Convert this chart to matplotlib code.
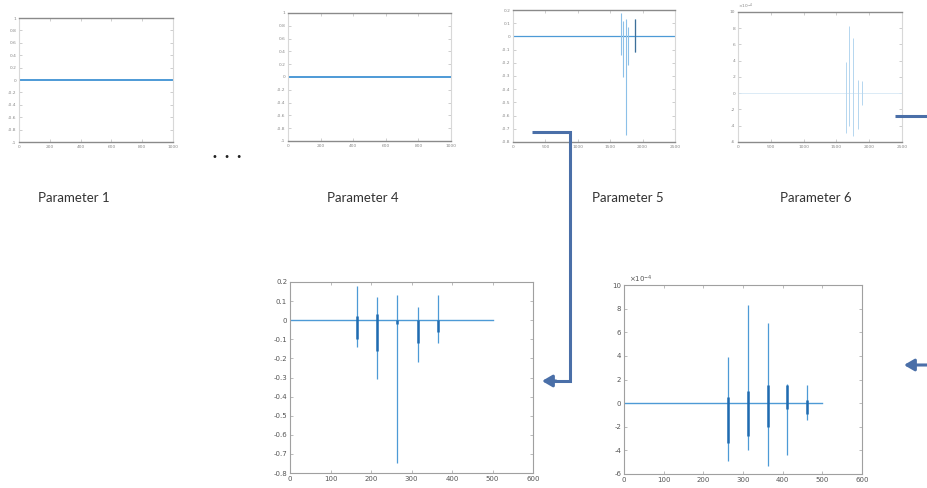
import matplotlib.pyplot as plt

# flat parameters (1 and 4)
flat_x = [0, 1000]
flat_y = [0, 0]

# parameter 5: bursts over the full run
p5_centers = [1660, 1700, 1740, 1775, 1880]
p5_top = [0.18, 0.12, 0.13, 0.07, 0.13]
p5_bottom = [-0.14, -0.31, -0.75, -0.22, -0.12]

# parameter 6: bursts over the full run
p6_centers = [1650, 1690, 1750, 1825, 1890]
p6_top = [3.9e-4, 8.3e-4, 6.8e-4, 1.6e-4, 1.5e-4]
p6_bottom = [-4.9e-4, -4.0e-4, -5.3e-4, -4.4e-4, -1.4e-4]

# zoomed window of parameter 5
z5_x = [0, 500]
z5_centers = [165, 215, 265, 315, 365]
z5_top = [0.18, 0.12, 0.13, 0.07, 0.13]
z5_bottom = [-0.14, -0.31, -0.75, -0.22, -0.12]
z5_core_top = [0.02, 0.03, 0.0, 0.0, 0.0]
z5_core_bottom = [-0.10, -0.16, -0.02, -0.12, -0.06]

# zoomed window of parameter 6
z6_x = [0, 500]
z6_centers = [262, 312, 362, 412, 462]
z6_top = [3.9e-4, 8.3e-4, 6.8e-4, 1.6e-4, 1.5e-4]
z6_bottom = [-4.9e-4, -4.0e-4, -5.3e-4, -4.4e-4, -1.4e-4]
z6_core_top = [0.5e-4, 1.0e-4, 1.5e-4, 1.5e-4, 0.3e-4]
z6_core_bottom = [-3.4e-4, -2.8e-4, -2.0e-4, -0.5e-4, -0.9e-4]

labels = ['Parameter 1', 'Parameter 4', 'Parameter 5', 'Parameter 6']

y_ticks_1 = [-1, -0.8, -0.6, -0.4, -0.2, 0, 0.2, 0.4, 0.6, 0.8, 1]
y_ticks_5 = [-0.8, -0.7, -0.6, -0.5, -0.4, -0.3, -0.2, -0.1, 0, 0.1, 0.2]
y_ticks_6 = [-6e-4, -4e-4, -2e-4, 0, 2e-4, 4e-4, 6e-4, 8e-4, 10e-4]

LINE = '#4d9ad6'
CORE = '#1f6bb0'
ARROW = '#4a6fa8'

fig = plt.figure(figsize=(9.27, 4.88), dpi=100)


def px_box(left, top, right, bottom):
    W, H = 927.0, 488.0
    return [left / W, 1 - bottom / H, (right - left) / W, (bottom - top) / H]


def tick_text(vals, scale=1.0):
    return ['%g' % round(v * scale, 6) for v in vals]


def style_small(ax):
    for s in ['left', 'right']:
        ax.spines[s].set_color('#d8d8d8')
    for s in ['top', 'bottom']:
        ax.spines[s].set_color('#8a8a8a')
        ax.spines[s].set_linewidth(1.0)
    ax.tick_params(direction='in', length=2, width=0.5, labelsize=3.2,
                   colors='#bbbbbb', labelcolor='#888888', pad=2,
                   top=True, right=True)


def style_big(ax):
    for s in ax.spines.values():
        s.set_color('#a0a0a0')
        s.set_linewidth(0.8)
    ax.tick_params(direction='in', length=2.5, width=0.5, labelsize=5,
                   colors='#a0a0a0', labelcolor='#555555', pad=2,
                   top=True, right=True)


# top row
boxes = [(19, 18, 173, 142), (288, 13, 451, 141), (513, 10, 675, 142), (738, 12, 902, 142)]
axs = [fig.add_axes(px_box(*b)) for b in boxes]

for ax in axs[:2]:
    ax.plot(flat_x, flat_y, color=LINE, lw=1.4)
    ax.set_xlim(0, 1000)
    ax.set_ylim(-1, 1)
    ax.set_xticks([0, 200, 400, 600, 800, 1000])
    ax.set_yticks(y_ticks_1)
    ax.set_yticklabels(tick_text(y_ticks_1))
    style_small(ax)

ax = axs[2]
ax.plot([0, 2500], [0, 0], color=LINE, lw=0.9)
ax.vlines(p5_centers, p5_bottom, p5_top, color='#8cc0e8', lw=0.8)
ax.vlines(p5_centers[-1], p5_bottom[-1], p5_top[-1], color='#3d6f99', lw=0.9)
ax.set_xlim(0, 2500)
ax.set_ylim(-0.8, 0.2)
ax.set_xticks([0, 500, 1000, 1500, 2000, 2500])
ax.set_yticks(y_ticks_5)
ax.set_yticklabels(tick_text(y_ticks_5))
style_small(ax)

ax = axs[3]
ax.plot([0, 2500], [0, 0], color='#d6e8f5', lw=0.6)
ax.vlines(p6_centers, p6_bottom, p6_top, color='#b5d6ef', lw=0.7)
ax.set_xlim(0, 2500)
ax.set_ylim(-6e-4, 10e-4)
ax.set_xticks([0, 500, 1000, 1500, 2000, 2500])
ax.set_yticks(y_ticks_6)
ax.set_yticklabels(tick_text(y_ticks_6, 1e4))
ax.text(0.0, 1.01, r'$\times10^{-4}$', transform=ax.transAxes, fontsize=3.2,
        color='#888888', ha='left', va='bottom')
style_small(ax)

# bottom row: zoomed windows
axl = fig.add_axes(px_box(290, 282, 533, 473))
axl.plot(z5_x, [0, 0], color=LINE, lw=1.0)
axl.vlines(z5_centers, z5_bottom, z5_top, color=LINE, lw=0.9)
axl.vlines(z5_centers, z5_core_bottom, z5_core_top, color=CORE, lw=1.8)
axl.set_xlim(0, 600)
axl.set_ylim(-0.8, 0.2)
axl.set_xticks([0, 100, 200, 300, 400, 500, 600])
axl.set_yticks(y_ticks_5)
axl.set_yticklabels(tick_text(y_ticks_5))
style_big(axl)

axr = fig.add_axes(px_box(624, 285, 862, 474))
axr.plot(z6_x, [0, 0], color=LINE, lw=1.0)
axr.vlines(z6_centers, z6_bottom, z6_top, color=LINE, lw=0.9)
axr.vlines(z6_centers, z6_core_bottom, z6_core_top, color=CORE, lw=1.8)
axr.set_xlim(0, 600)
axr.set_ylim(-6e-4, 10e-4)
axr.set_xticks([0, 100, 200, 300, 400, 500, 600])
axr.set_yticks(y_ticks_6)
axr.set_yticklabels(tick_text(y_ticks_6, 1e4))
axr.text(0.02, 1.0, r'$\times10^{-4}$', transform=axr.transAxes, fontsize=5,
         color='#555555', ha='left', va='bottom')
style_big(axr)

# overlay in pixel units for labels and connectors
ov = fig.add_axes([0, 0, 1, 1], zorder=5)
ov.set_xlim(0, 927)
ov.set_ylim(488, 0)
ov.axis('off')
ov.patch.set_alpha(0)

label_x = [74, 363, 628, 816]
for lx, txt in zip(label_x, labels):
    ov.text(lx, 198, txt, ha='center', va='center', fontsize=9.5,
            family='Lato', color='#333333')

ov.text(227, 157, '\u2022  \u2022  \u2022', ha='center', va='center',
        fontsize=7, color='#222222')

# parameter 5 -> its zoomed window
ov.plot([532, 570, 570, 552], [132, 132, 381, 381], color=ARROW, lw=2.2,
        solid_joinstyle='miter', solid_capstyle='butt')
ov.annotate('', xy=(542, 381), xytext=(556, 381),
            arrowprops=dict(arrowstyle='-|>,head_length=0.6,head_width=0.35',
                            color=ARROW, lw=2.2, shrinkA=0, shrinkB=0))

# parameter 6 -> its zoomed window
ov.plot([895, 927], [116, 116], color=ARROW, lw=2.2, solid_capstyle='butt')
ov.annotate('', xy=(904, 365), xytext=(927, 365),
            arrowprops=dict(arrowstyle='-|>,head_length=0.6,head_width=0.35',
                            color=ARROW, lw=2.2, shrinkA=0, shrinkB=0))

fig.savefig('out.png', dpi=100)
